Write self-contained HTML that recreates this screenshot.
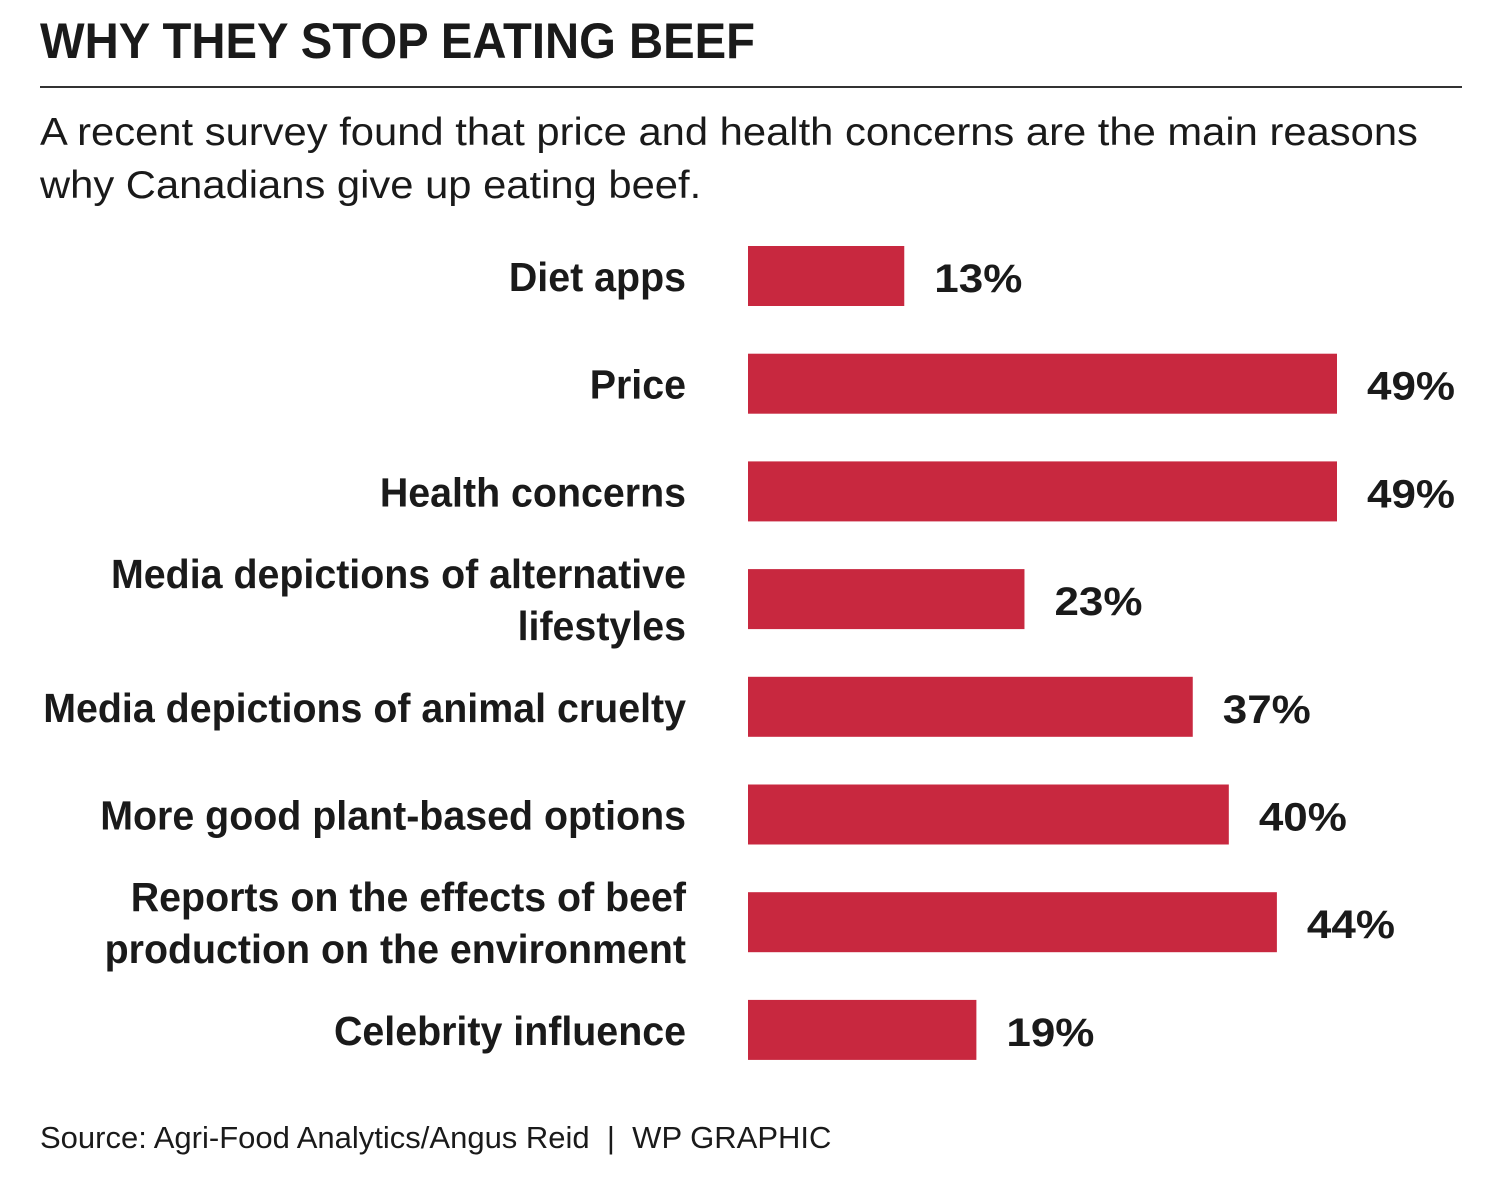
<!DOCTYPE html>
<html><head><meta charset="utf-8"><style>
body{margin:0;background:#fff;width:1500px;height:1192px;overflow:hidden;position:relative;font-family:"Liberation Sans",sans-serif;color:#1a1a1a}
.t{position:absolute;white-space:nowrap;transform-origin:0 0}
</style></head><body>
<div class="t" style="left:40px;top:12px;font-size:50px;font-weight:bold;transform:scaleX(0.945)">WHY THEY STOP EATING BEEF</div>
<div style="position:absolute;left:40px;top:86px;width:1422px;height:2px;background:#333"></div>
<div class="t" style="left:40px;top:106px;font-size:39px;line-height:53px;transform:scaleX(1.07)">A recent survey found that price and health concerns are the main reasons<br>why Canadians give up eating beef.</div>
<svg id="chart" width="1500" height="1192" style="position:absolute;left:0;top:0"></svg>
<div class="t" style="left:40px;top:1120px;font-size:31px">Source: Agri-Food Analytics/Angus Reid &nbsp;|&nbsp; WP GRAPHIC</div>
<script>
const categories=[["Diet apps"],["Price"],["Health concerns"],["Media depictions of alternative","lifestyles"],["Media depictions of animal cruelty"],["More good plant-based options"],["Reports on the effects of beef","production on the environment"],["Celebrity influence"]];
const values=[13,49,49,23,37,40,44,19];
const x0=748, pxPer=(1337-748)/49;
const xs=v=>x0+v*pxPer;
const ys=i=>246+i*107.7;
const svg=document.getElementById('chart');
const NS='http://www.w3.org/2000/svg';
values.forEach((v,i)=>{
  const r=document.createElementNS(NS,'rect');
  r.setAttribute('x',x0);r.setAttribute('y',ys(i));
  r.setAttribute('width',xs(v)-x0);r.setAttribute('height',60);
  r.setAttribute('fill','#c8283f');
  
  
  svg.appendChild(r);
  const t=document.createElementNS(NS,'text');
  t.setAttribute('transform','translate('+(xs(v)+30)+','+(ys(i)+46)+') scale(1.1,1)');
  t.setAttribute('font-size','40');t.setAttribute('font-weight','bold');
  t.setAttribute('font-family','"Liberation Sans",sans-serif');
  t.setAttribute('fill','#1a1a1a');
  t.textContent=v+'%';
  
  
  svg.appendChild(t);
  const lines=categories[i];
  lines.forEach((s,j)=>{
    const l=document.createElementNS(NS,'text');
    const cy=ys(i)+45+(j-(lines.length-1)/2)*52;
    l.setAttribute('transform','translate(686,'+cy+') scale(0.96,1)');
    l.setAttribute('text-anchor','end');
    l.setAttribute('font-size','41');l.setAttribute('font-weight','bold');
    l.setAttribute('font-family','"Liberation Sans",sans-serif');
    l.setAttribute('fill','#1a1a1a');
    l.textContent=s;
    
    
    svg.appendChild(l);
  });
});
</script>
</body></html>
